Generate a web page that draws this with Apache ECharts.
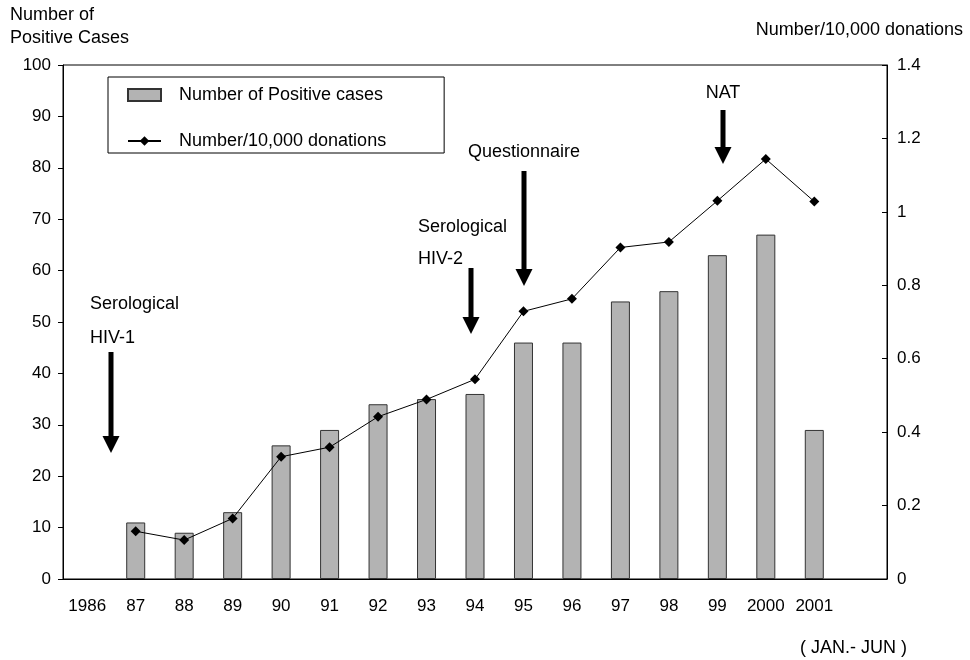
<!DOCTYPE html>
<html>
<head>
<meta charset="utf-8">
<script src="https://cdn.jsdelivr.net/npm/echarts@6/dist/echarts.min.js"></script>
<style>html,body{margin:0;padding:0;background:#fff;}#c{width:970px;height:660px;}</style>
</head>
<body>
<div id="c"></div>
<script>
const categories = ['1986','87','88','89','90','91','92','93','94','95','96','97','98','99','2000','2001',''];
const positiveCases = [null, 11, 9, 13, 26, 29, 34, 35, 36, 46, 46, 54, 56, 63, 67, 29, null];
const per10000 = [null, 0.13, 0.106, 0.165, 0.333, 0.359, 0.442, 0.489, 0.544, 0.729, 0.763, 0.903, 0.918, 1.03, 1.144, 1.028, null];
const leftTicks = {min: 0, max: 100, interval: 10};
const rightTicks = {min: 0, max: 1.4, interval: 0.2};

const FONT = 'Liberation Sans, Arial, sans-serif';
const chart = echarts.init(document.getElementById('c'), null, {renderer: 'canvas'});

function arrow(x, y0, y1) {
  const hw = 8.5, hh = 17, sw = 2.5;
  return {
    type: 'polygon',
    shape: {points: [[x - sw, y0], [x + sw, y0], [x + sw, y1 - hh], [x + hw, y1 - hh], [x, y1], [x - hw, y1 - hh], [x - sw, y1 - hh]]},
    style: {fill: '#000'}
  };
}
function txt(x, y, t, align, size) {
  return {type: 'text', x: x, y: y, style: {text: t, fill: '#000', font: (size || 18) + 'px ' + FONT, textAlign: align || 'left', textVerticalAlign: 'middle'}};
}

chart.setOption({
  animation: false,
  backgroundColor: '#fff',
  textStyle: {fontFamily: FONT, color: '#000'},
  grid: {left: 63, right: 83, top: 65, bottom: 81, show: true, borderColor: '#000', borderWidth: 1, backgroundColor: 'transparent'},
  legend: {
    orient: 'vertical', left: 108, top: 77,
    padding: [9, 58, 3, 19],
    itemGap: 28, itemWidth: 33, itemHeight: 12,
    borderColor: '#000', borderWidth: 1,
    textStyle: {fontSize: 18, color: '#000', fontFamily: FONT, padding: [0, 0, 0, 13]},
    data: [
      {name: 'Number of Positive cases', icon: 'rect'},
      {name: 'Number/10,000 donations'}
    ]
  },
  xAxis: {
    type: 'category', data: categories, boundaryGap: true,
    axisLine: {lineStyle: {color: '#000', width: 1}},
    axisTick: {inside: true, length: 6, lineStyle: {color: '#000'}},
    axisLabel: {interval: 0, margin: 19, fontSize: 17, color: '#000', fontFamily: FONT}
  },
  yAxis: [
    {
      type: 'value', min: leftTicks.min, max: leftTicks.max, interval: leftTicks.interval,
      axisLine: {show: true, lineStyle: {color: '#000'}},
      axisTick: {show: true, inside: false, length: 5, lineStyle: {color: '#000'}},
      axisLabel: {fontSize: 17, color: '#000', margin: 12, fontFamily: FONT},
      splitLine: {show: false}
    },
    {
      type: 'value', min: rightTicks.min, max: rightTicks.max, interval: rightTicks.interval,
      position: 'right',
      axisLine: {show: true, lineStyle: {color: '#000'}},
      axisTick: {show: true, inside: true, length: 5, lineStyle: {color: '#000'}},
      axisLabel: {fontSize: 17, color: '#000', margin: 10, fontFamily: FONT, formatter: v => String(+v.toFixed(1))},
      splitLine: {show: false}
    }
  ],
  series: [
    {
      name: 'Number of Positive cases', type: 'bar', data: positiveCases, barWidth: 19, yAxisIndex: 0,
      itemStyle: {color: '#b3b3b3', borderColor: '#333', borderWidth: 1}
    },
    {
      name: 'Number/10,000 donations', type: 'line', data: per10000, yAxisIndex: 1,
      symbol: 'diamond', symbolSize: 10, connectNulls: false,
      itemStyle: {color: '#000'}, lineStyle: {color: '#000', width: 1}
    }
  ],
  graphic: [
    txt(10, 15, 'Number of'),
    txt(10, 38, 'Positive Cases'),
    txt(963, 30, 'Number/10,000 donations', 'right'),
    txt(800, 648, '( JAN.- JUN )'),
    txt(90, 304, 'Serological'),
    txt(90, 338, 'HIV-1'),
    txt(418, 227, 'Serological'),
    txt(418, 259, 'HIV-2'),
    txt(468, 152, 'Questionnaire'),
    txt(723, 93, 'NAT', 'center'),
    arrow(111, 352, 453),
    arrow(471, 268, 334),
    arrow(524, 171, 286),
    arrow(723, 110, 164)
  ]
});
</script>
</body>
</html>
